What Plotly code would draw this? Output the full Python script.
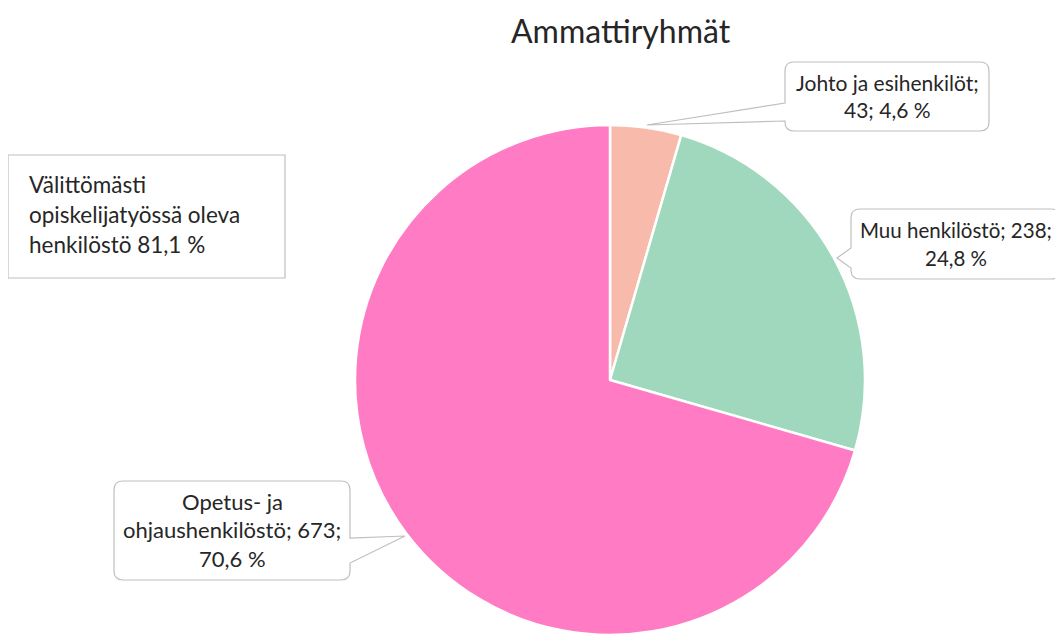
import plotly.graph_objects as go

# page body adds an 8px offset; compensate so the picture lines up with the window
OFF = 8
W, H = 1063 - OFF, 635 - OFF

# ---- data ----
labels = ["Johto ja esihenkilöt", "Muu henkilöstö", "Opetus- ja ohjaushenkilöstö"]
counts = [43, 238, 673]
percents = ["4,6 %", "24,8 %", "70,6 %"]
colors = ["#F8BBAB", "#A0D8BD", "#FF7CC4"]
title_text = "Ammattiryhmät"
side_note = ["Välittömästi", "opiskelijatyössä oleva", "henkilöstö 81,1 %"]

FONT = "Lato"
TXT = "#262626"
BORDER = "#BFBFBF"


def px(x, y):
    return (x - OFF) / W, 1 - (y - OFF) / H


def pt(x, y):
    a, b = px(x, y)
    return f"{a:.5f},{b:.5f}"


def callout(x0, y0, x1, y1, r, side, t0, tip, t1):
    """Rounded rectangle with a pointer on the given side (pixel coords)."""
    d = []
    d.append("M " + pt(x0 + r, y0))
    d.append("L " + pt(x1 - r, y0))
    d.append("Q " + pt(x1, y0) + " " + pt(x1, y0 + r))
    if side == "right":
        d.append("L " + pt(x1, t0))
        d.append("L " + pt(*tip))
        d.append("L " + pt(x1, t1))
    d.append("L " + pt(x1, y1 - r))
    d.append("Q " + pt(x1, y1) + " " + pt(x1 - r, y1))
    d.append("L " + pt(x0 + r, y1))
    d.append("Q " + pt(x0, y1) + " " + pt(x0, y1 - r))
    if side == "left":
        d.append("L " + pt(x0, t1))
        d.append("L " + pt(*tip))
        d.append("L " + pt(x0, t0))
    d.append("L " + pt(x0, y0 + r))
    d.append("Q " + pt(x0, y0) + " " + pt(x0 + r, y0))
    d.append("Z")
    return " ".join(d)


dx0, dy0 = px(355, 635)
dx1, dy1 = px(865, 125)

fig = go.Figure()
fig.add_trace(go.Pie(
    labels=labels,
    values=counts,
    sort=False,
    direction="clockwise",
    rotation=0,
    marker=dict(colors=colors, line=dict(color="white", width=2.5)),
    textinfo="none",
    hoverinfo="label+value+percent",
    showlegend=False,
    domain=dict(x=[dx0, dx1], y=[max(dy0, 0), dy1]),
))

shapes = []
annotations = []

# title
tx, ty = px(621, 30)
annotations.append(dict(x=tx, y=ty, xref="paper", yref="paper", text=title_text,
                        showarrow=False, font=dict(family=FONT, size=32, color=TXT),
                        xanchor="center", yanchor="middle"))

# side note box
a0, b0 = px(8, 155)
a1, b1 = px(285, 278)
shapes.append(dict(type="rect", xref="paper", yref="paper", x0=a0, y0=b1, x1=a1, y1=b0,
                   line=dict(color=BORDER, width=1.2), fillcolor="white", layer="above"))
for i, line in enumerate(side_note):
    lx, ly = px(27, 184 + 30 * i)
    annotations.append(dict(x=lx, y=ly, xref="paper", yref="paper", text=line,
                            showarrow=False, font=dict(family=FONT, size=22.5, color=TXT),
                            xanchor="left", yanchor="middle"))

# callouts
callout_defs = [
    dict(box=(785, 62, 989, 131), side="left", t0=103, tip=(647, 125), t1=121,
         lines=[f"{labels[0]};", f"{counts[0]}; {percents[0]}"], ys=[82, 110], cx=887, fs=21),
    dict(box=(851, 209, 1060, 279), side="left", t0=248, tip=(837, 258), t1=268,
         lines=[f"{labels[1]}; {counts[1]};", percents[1]], ys=[230, 258], cx=956, fs=20.5),
    dict(box=(114, 481, 350, 580), side="right", t0=538, tip=(405, 536), t1=563,
         lines=["Opetus- ja", f"ohjaushenkilöstö; {counts[2]};", percents[2]],
         ys=[501, 529, 558], cx=232, fs=22),
]
for c in callout_defs:
    x0, y0, x1, y1 = c["box"]
    shapes.append(dict(type="path", xref="paper", yref="paper",
                       path=callout(x0, y0, x1, y1, 9, c["side"], c["t0"], c["tip"], c["t1"]),
                       line=dict(color=BORDER, width=1.2), fillcolor="white", layer="above"))
    for line, yy in zip(c["lines"], c["ys"]):
        lx, ly = px(c["cx"], yy)
        annotations.append(dict(x=lx, y=ly, xref="paper", yref="paper", text=line,
                                showarrow=False, font=dict(family=FONT, size=c["fs"], color=TXT),
                                xanchor="center", yanchor="middle"))

fig.update_layout(
    width=W, height=H,
    margin=dict(l=0, r=0, t=0, b=0),
    paper_bgcolor="white", plot_bgcolor="white",
    shapes=shapes, annotations=annotations,
)

fig.write_html("out.html")
